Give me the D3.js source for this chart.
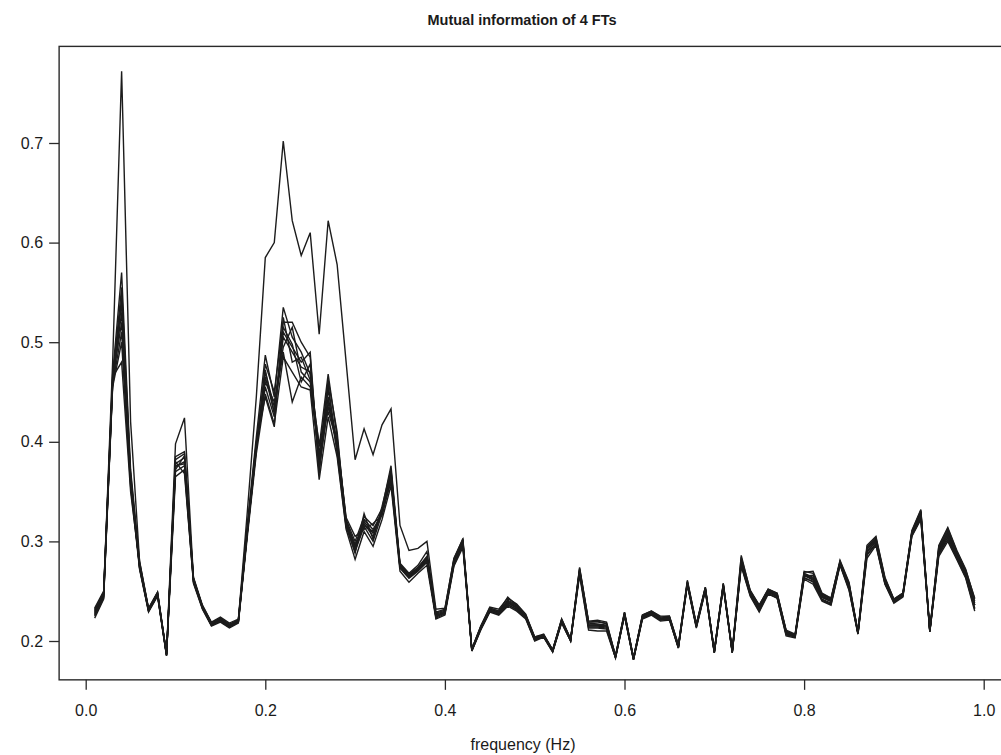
<!DOCTYPE html>
<html><head><meta charset="utf-8">
<script src="https://cdn.jsdelivr.net/npm/d3@7"></script>
<style>
html,body{margin:0;padding:0;background:#fff;}
text{font-family:"Liberation Sans",Arial,Helvetica,sans-serif;fill:#1a1a1a;}
</style></head>
<body>
<svg id="chart" width="1001" height="755"></svg>
<script>
const titleText = "Mutual information of 4 FTs";
const xLabel = "frequency (Hz)";
const xTicks = [0.0, 0.2, 0.4, 0.6, 0.8, 1.0];
const yTicks = [0.2, 0.3, 0.4, 0.5, 0.6, 0.7];
// frequency grid 0.01 .. 0.99
const freq = d3.range(1, 100).map(i => i / 100);

const s0 = [
0.228,0.246,0.460,0.530,0.360,0.275,0.231,0.247,0.186,0.375,0.380,0.261,0.234,0.217,0.221,0.215,0.220,0.310,0.395,
0.465,0.430,0.505,0.490,0.475,0.470,0.380,0.445,0.395,0.318,0.295,0.318,0.305,0.330,0.365,0.275,0.265,0.272,0.282,
0.226,0.229,0.278,0.298,0.191,0.213,0.231,0.228,0.238,0.233,0.224,0.202,0.205,0.190,0.220,0.201,0.270,0.215,0.215,0.214,0.184,
0.227,0.182,0.224,0.228,0.222,0.223,0.194,0.258,0.215,0.252,0.189,0.256,0.189,0.278,0.248,0.233,0.250,0.245,0.208,0.205,
0.266,0.262,0.244,0.240,0.278,0.255,0.208,0.290,0.300,0.260,0.240,0.246,0.308,0.327,0.210,0.290,0.307,0.286,0.267,0.236];
const s1 = [
0.233,0.250,0.468,0.570,0.372,0.280,0.233,0.249,0.187,0.385,0.390,0.264,0.236,0.219,0.224,0.218,0.222,0.318,0.405,
0.487,0.445,0.535,0.505,0.490,0.468,0.395,0.468,0.405,0.322,0.300,0.325,0.316,0.333,0.376,0.278,0.268,0.276,0.290,
0.229,0.232,0.283,0.302,0.192,0.215,0.234,0.232,0.243,0.237,0.227,0.204,0.207,0.191,0.222,0.202,0.274,0.220,0.221,0.219,0.185,
0.229,0.183,0.226,0.230,0.225,0.225,0.196,0.260,0.217,0.254,0.190,0.258,0.190,0.284,0.251,0.236,0.252,0.248,0.211,0.207,
0.270,0.268,0.247,0.243,0.280,0.258,0.209,0.294,0.304,0.263,0.242,0.248,0.310,0.331,0.211,0.295,0.313,0.290,0.271,0.243];
const s2 = [
0.223,0.242,0.455,0.500,0.355,0.272,0.229,0.245,0.185,0.365,0.372,0.258,0.232,0.215,0.219,0.213,0.218,0.305,0.388,
0.448,0.418,0.485,0.470,0.455,0.452,0.362,0.425,0.385,0.312,0.282,0.310,0.295,0.322,0.356,0.270,0.259,0.268,0.276,
0.222,0.226,0.275,0.294,0.190,0.211,0.229,0.226,0.235,0.230,0.222,0.200,0.204,0.189,0.218,0.200,0.266,0.211,0.210,0.210,0.183,
0.225,0.181,0.222,0.226,0.220,0.221,0.193,0.256,0.213,0.250,0.188,0.254,0.188,0.275,0.245,0.229,0.247,0.243,0.205,0.203,
0.262,0.257,0.240,0.236,0.276,0.251,0.207,0.283,0.296,0.257,0.238,0.244,0.305,0.322,0.209,0.285,0.300,0.282,0.263,0.230];
const s3 = [
0.230,0.247,0.465,0.480,0.350,0.277,0.232,0.248,0.186,0.378,0.384,0.262,0.235,0.218,0.222,0.216,0.221,0.312,0.398,
0.470,0.435,0.490,0.440,0.465,0.455,0.388,0.452,0.398,0.320,0.297,0.320,0.308,0.331,0.368,0.276,0.266,0.273,0.283,
0.227,0.230,0.280,0.300,0.191,0.214,0.232,0.229,0.240,0.235,0.225,0.203,0.206,0.190,0.221,0.201,0.271,0.216,0.216,0.215,0.184,
0.228,0.182,0.225,0.229,0.223,0.224,0.195,0.259,0.216,0.253,0.189,0.257,0.189,0.280,0.249,0.234,0.251,0.246,0.209,0.206,
0.268,0.264,0.245,0.241,0.279,0.256,0.208,0.292,0.302,0.261,0.241,0.247,0.309,0.329,0.210,0.292,0.309,0.288,0.268,0.238];
const s4 = [
0.226,0.245,0.458,0.545,0.365,0.274,0.230,0.246,0.187,0.398,0.424,0.263,0.233,0.216,0.220,0.214,0.219,0.308,0.392,
0.478,0.450,0.520,0.520,0.500,0.485,0.372,0.440,0.392,0.316,0.293,0.322,0.312,0.328,0.362,0.274,0.264,0.271,0.281,
0.224,0.228,0.276,0.297,0.190,0.212,0.230,0.227,0.236,0.232,0.223,0.201,0.205,0.190,0.219,0.200,0.268,0.213,0.213,0.212,0.183,
0.226,0.181,0.223,0.227,0.221,0.222,0.193,0.257,0.214,0.251,0.188,0.255,0.188,0.277,0.247,0.231,0.249,0.244,0.207,0.204,
0.264,0.259,0.242,0.238,0.277,0.253,0.207,0.287,0.298,0.258,0.239,0.245,0.306,0.324,0.209,0.288,0.304,0.284,0.265,0.233];
const s5 = [
0.229,0.248,0.462,0.520,0.358,0.276,0.231,0.247,0.186,0.370,0.376,0.260,0.234,0.217,0.221,0.215,0.220,0.310,0.396,
0.455,0.425,0.510,0.495,0.480,0.490,0.368,0.458,0.388,0.314,0.290,0.315,0.300,0.328,0.360,0.273,0.263,0.270,0.279,
0.225,0.229,0.279,0.299,0.191,0.213,0.231,0.228,0.239,0.234,0.225,0.202,0.205,0.190,0.220,0.201,0.270,0.218,0.217,0.216,0.184,
0.227,0.182,0.224,0.228,0.222,0.223,0.194,0.258,0.215,0.252,0.189,0.256,0.189,0.279,0.248,0.233,0.250,0.245,0.208,0.205,
0.267,0.263,0.244,0.240,0.278,0.255,0.208,0.290,0.300,0.260,0.240,0.246,0.308,0.327,0.210,0.290,0.307,0.286,0.267,0.236];
const s6 = [
0.227,0.244,0.457,0.510,0.362,0.273,0.230,0.246,0.185,0.380,0.368,0.259,0.233,0.216,0.220,0.214,0.219,0.309,0.393,
0.460,0.440,0.495,0.515,0.470,0.460,0.398,0.430,0.400,0.324,0.305,0.312,0.318,0.326,0.370,0.277,0.267,0.274,0.285,
0.228,0.231,0.277,0.296,0.192,0.214,0.233,0.230,0.241,0.236,0.226,0.203,0.206,0.191,0.221,0.202,0.272,0.219,0.219,0.218,0.185,
0.228,0.183,0.225,0.229,0.223,0.224,0.195,0.259,0.216,0.253,0.190,0.257,0.190,0.281,0.250,0.235,0.251,0.247,0.210,0.206,
0.265,0.266,0.246,0.242,0.279,0.257,0.209,0.293,0.302,0.262,0.241,0.247,0.309,0.330,0.211,0.293,0.311,0.289,0.270,0.240];
const s7 = [
0.231,0.249,0.463,0.555,0.368,0.278,0.232,0.248,0.187,0.372,0.386,0.262,0.235,0.218,0.223,0.217,0.221,0.313,0.400,
0.445,0.415,0.525,0.480,0.485,0.462,0.385,0.462,0.410,0.316,0.288,0.328,0.302,0.335,0.372,0.276,0.266,0.273,0.284,
0.223,0.227,0.281,0.301,0.190,0.212,0.230,0.227,0.237,0.231,0.223,0.201,0.204,0.189,0.219,0.200,0.269,0.214,0.214,0.213,0.183,
0.226,0.181,0.223,0.227,0.221,0.222,0.193,0.257,0.214,0.251,0.188,0.255,0.188,0.276,0.246,0.230,0.248,0.243,0.206,0.204,
0.263,0.260,0.241,0.237,0.277,0.252,0.207,0.286,0.297,0.258,0.239,0.245,0.306,0.323,0.209,0.287,0.302,0.283,0.264,0.232];
const s8 = [
0.225,0.243,0.459,0.540,0.364,0.274,0.230,0.246,0.186,0.376,0.378,0.260,0.233,0.216,0.220,0.214,0.219,0.309,0.394,
0.472,0.428,0.515,0.498,0.460,0.478,0.375,0.435,0.402,0.320,0.292,0.316,0.310,0.327,0.366,0.274,0.264,0.271,0.280,
0.225,0.228,0.279,0.299,0.191,0.213,0.231,0.228,0.239,0.233,0.224,0.202,0.205,0.190,0.220,0.201,0.270,0.216,0.216,0.215,0.184,
0.227,0.182,0.224,0.228,0.222,0.223,0.194,0.258,0.215,0.252,0.189,0.256,0.189,0.279,0.248,0.232,0.250,0.245,0.208,0.205,
0.266,0.261,0.244,0.240,0.278,0.255,0.208,0.289,0.300,0.260,0.240,0.246,0.308,0.327,0.210,0.290,0.306,0.286,0.267,0.236];
const outlier = [
0.232,0.248,0.480,0.772,0.420,0.280,0.232,0.249,0.187,0.382,0.388,0.263,0.235,0.218,0.222,0.216,0.221,0.330,0.445,
0.585,0.600,0.702,0.622,0.587,0.610,0.508,0.622,0.578,0.480,0.382,0.413,0.387,0.417,0.433,0.316,0.291,0.293,0.300,
0.232,0.233,0.282,0.303,0.192,0.215,0.233,0.230,0.244,0.236,0.226,0.204,0.206,0.191,0.222,0.202,0.273,0.219,0.220,0.217,0.185,
0.229,0.183,0.226,0.230,0.224,0.225,0.196,0.261,0.217,0.254,0.190,0.258,0.190,0.286,0.250,0.236,0.252,0.248,0.210,0.206,
0.269,0.270,0.248,0.243,0.281,0.259,0.209,0.296,0.305,0.264,0.242,0.248,0.311,0.332,0.211,0.296,0.314,0.291,0.272,0.242];

const seriesList = [s0, s1, s2, s3, s4, s5, s6, s7, s8, outlier];

const svg = d3.select("#chart");
const x = d3.scaleLinear().domain([0, 1]).range([85.7, 983.7]);
const y = d3.scaleLinear().domain([0.2, 0.7]).range([641, 143]);

const boxL = x(-0.0296), boxR = x(1.0296), boxT = y(0.797), boxB = y(0.161);

// plot box
svg.append("rect").attr("x", boxL).attr("y", boxT)
  .attr("width", boxR - boxL).attr("height", boxB - boxT)
  .attr("fill", "none").attr("stroke", "#2a2a2a").attr("stroke-width", 1.4);

const line = d3.line().x((d, i) => x(freq[i])).y(d => y(d));
svg.append("g").selectAll("path").data(seriesList).join("path")
  .attr("d", line).attr("fill", "none")
  .attr("stroke", "#1c1c1c").attr("stroke-width", 1.4)
  .attr("stroke-linejoin", "miter");

const fontStack = '"Liberation Sans",Arial,sans-serif';

// x axis
const xAxis = d3.axisBottom(x).tickValues(xTicks).tickFormat(d3.format(".1f"))
  .tickSize(10).tickPadding(15);
const gx = svg.append("g").attr("transform", `translate(0,${boxB})`).call(xAxis);
gx.select(".domain").remove();
gx.selectAll("line").attr("stroke", "#2a2a2a").attr("stroke-width", 1.3);
gx.selectAll("text").style("font-size", "16px").style("font-family", fontStack).attr("fill", "#1a1a1a");

// y axis
const yAxis = d3.axisLeft(y).tickValues(yTicks).tickFormat(d3.format(".1f"))
  .tickSize(10).tickPadding(6);
const gy = svg.append("g").attr("transform", `translate(${boxL},0)`).call(yAxis);
gy.select(".domain").remove();
gy.selectAll("line").attr("stroke", "#2a2a2a").attr("stroke-width", 1.3);
gy.selectAll("text").style("font-size", "16px").style("font-family", fontStack).attr("fill", "#1a1a1a");

svg.append("text").attr("x", 522).attr("y", 25).attr("text-anchor", "middle")
  .style("font-size", "14.5px").style("font-weight", "bold").text(titleText);
svg.append("text").attr("x", 523).attr("y", 750).attr("text-anchor", "middle")
  .style("font-size", "16px").text(xLabel);
</script>
</body></html>
